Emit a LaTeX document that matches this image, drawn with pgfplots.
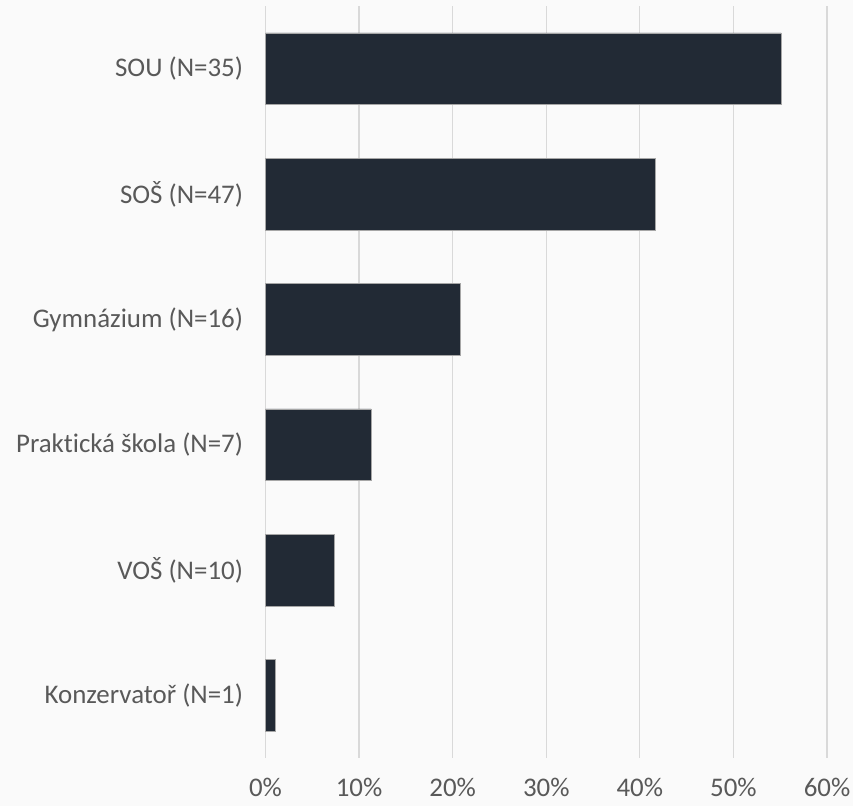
\documentclass[border=0pt]{standalone}
\usepackage{pgfplots}
\pgfplotsset{compat=1.18}
\usepackage{fontspec}
\setmainfont[Ligatures=NoCommon]{Carlito}
\definecolor{barc}{HTML}{222A35}
\definecolor{bg}{HTML}{FAFAFA}
\definecolor{gridc}{HTML}{D9D9D9}
\definecolor{txt}{HTML}{595959}
\begin{document}
\begin{tikzpicture}
\path[use as bounding box, fill=bg] (0,0) rectangle (853bp,806bp);
\begin{axis}[
  at={(265.5bp,48bp)}, anchor=south west,
  scale only axis,
  width=561.5bp, height=752bp,
  xmin=0, xmax=60,
  ymin=-0.5, ymax=5.5,
  y dir=reverse,
  xbar, bar width=71.6bp,
  axis line style={draw=none},
  xtick={0,10,20,30,40,50,60},
  xticklabel={\pgfmathprintnumber{\tick}\%},
  xmajorgrids, grid style={gridc, line width=1.2bp},
  major tick length=0,
  ytick={0,1,2,3,4,5},
  yticklabels={SOU (N=35), SOŠ (N=47), Gymnázium (N=16), Praktická škola (N=7), VOŠ (N=10), Konzervatoř (N=1)},
  tick label style={font=\fontsize{27}{32}\selectfont, text=txt},
  /pgf/number format/assume math mode=true,
  xticklabel style={yshift=-19bp, inner sep=1bp},
  yticklabel style={xshift=-19bp},
  clip=false,
]
\addplot[fill=barc, draw=gray!70, line width=0.6bp] coordinates {
(55.1,0) (41.7,1) (20.8,2) (11.3,3) (7.3,4) (1.0,5)
};
\end{axis}
\end{tikzpicture}
\end{document}
